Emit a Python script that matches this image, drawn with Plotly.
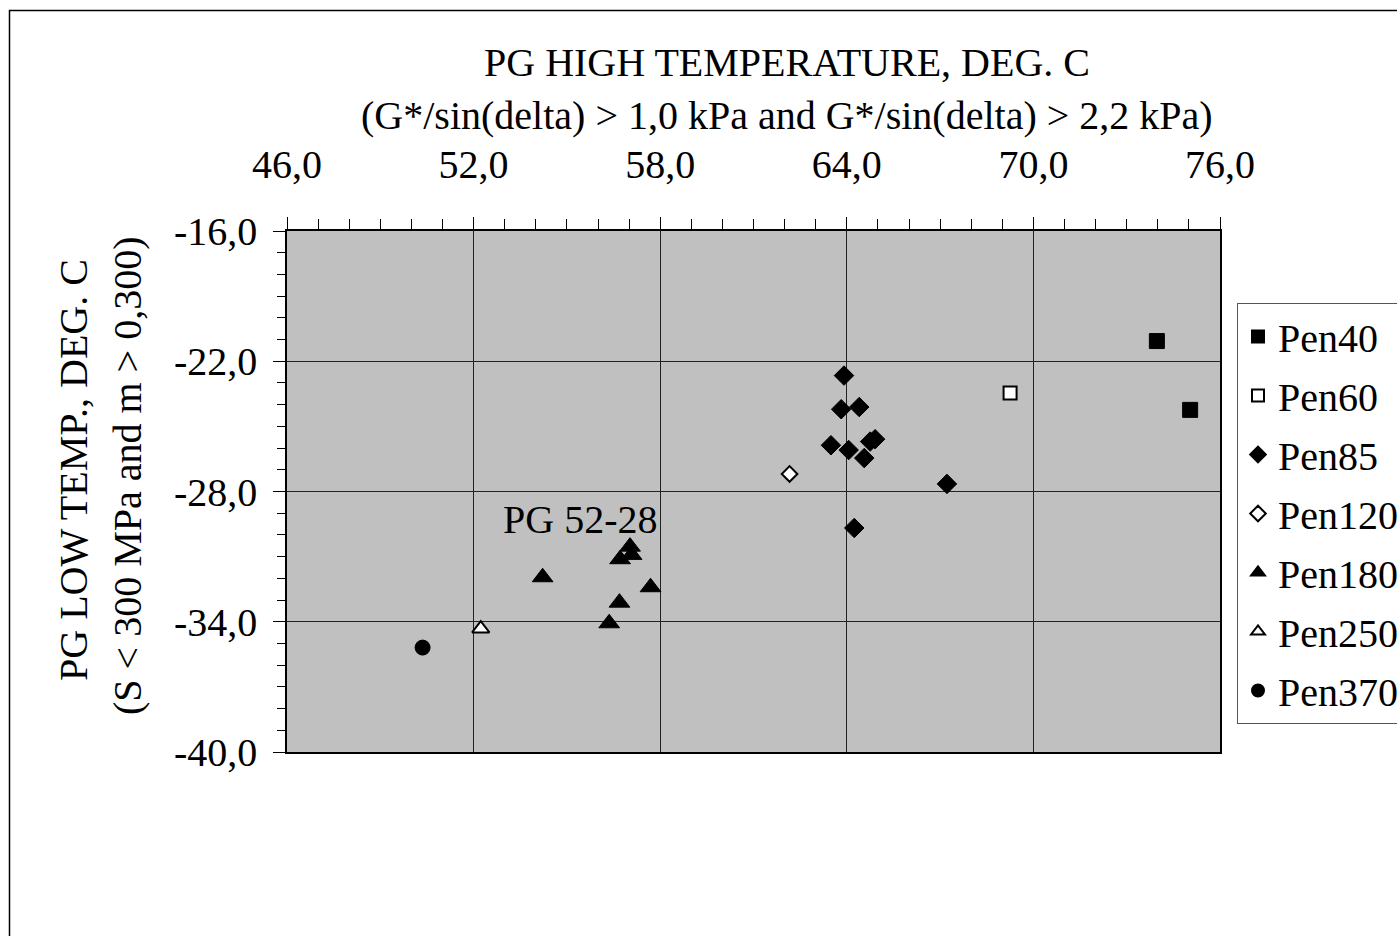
import plotly.graph_objects as go

# ---- data ----
series_names = ["Pen40", "Pen60", "Pen85", "Pen120", "Pen180", "Pen250", "Pen370"]

pen40_x = [73.97, 75.04]
pen40_y = [-21.07, -24.24]

pen60_x = [69.25]
pen60_y = [-23.46]

pen85_x = [63.91, 63.82, 64.40, 63.49, 64.06, 64.56, 64.75, 64.91, 67.22, 64.24]
pen85_y = [-22.66, -24.21, -24.11, -25.87, -26.09, -26.46, -25.70, -25.59, -27.65, -29.68]

pen120_x = [62.16]
pen120_y = [-27.19]

pen180_x = [54.22, 57.03, 57.08, 56.71, 57.69, 56.69, 56.36]
pen180_y = [-31.95, -30.54, -30.92, -31.12, -32.41, -33.12, -34.07]

pen250_x = [52.23]
pen250_y = [-34.32]

pen370_x = [50.36]
pen370_y = [-35.19]

x_ticks = [46, 52, 58, 64, 70, 76]
x_ticktext = ["46,0", "52,0", "58,0", "64,0", "70,0", "76,0"]
y_ticks = [-16, -22, -28, -34, -40]
y_ticktext = ["-16,0", "-22,0", "-28,0", "-34,0", "-40,0"]

label_text = "PG 52-28"
label_x, label_y = 55.42, -29.31

FONT = "Liberation Serif, Times New Roman, serif"
FS = 40

fig = go.Figure()

def add(name, xs, ys, symbol, size, fill, group):
    fig.add_trace(go.Scatter(
        x=xs, y=ys, mode="markers", name=name, legendgroup=group,
        marker=dict(symbol=symbol, size=size, color=fill,
                    line=dict(color="black", width=2 if fill == "white" else 1)),
    ))

add("Pen40", pen40_x, pen40_y, "square", 15, "black", "g1")
add("Pen60", pen60_x, pen60_y, "square", 13, "white", "g2")
add("Pen85", pen85_x, pen85_y, "diamond", 15, "black", "g3")
add("Pen120", pen120_x, pen120_y, "diamond", 12, "white", "g4")
add("Pen180", pen180_x, pen180_y, "triangle-up", 18, "black", "g5")
add("Pen250", pen250_x, pen250_y, "triangle-up", 15, "white", "g6")
add("Pen370", pen370_x, pen370_y, "circle", 15, "black", "g7")

W, H = 1397, 936
L, R, T, B = 287, 1220, 231, 752

def px(xp):
    return (xp - L) / (R - L)

def py(yp):
    return 1 - (yp - T) / (B - T)

fig.update_layout(
    width=W, height=H,
    margin=dict(l=L, r=W - R, t=T, b=H - B, pad=0, autoexpand=False),
    paper_bgcolor="white",
    plot_bgcolor="#C0C0C0",
    separators=", ",
    font=dict(family=FONT, size=FS, color="black"),
    showlegend=True,
    legend=dict(
        x=px(1237), y=py(303), xanchor="left", yanchor="top",
        bgcolor="white", bordercolor="#555555", borderwidth=1,
        font=dict(family=FONT, size=FS, color="black"),
        itemsizing="constant", tracegroupgap=4,
        traceorder="grouped",
    ),
    xaxis=dict(
        side="top", range=[46, 76], tickvals=x_ticks, ticktext=x_ticktext,
        showgrid=True, gridcolor="#222222", gridwidth=1,
        showline=True, linecolor="black", linewidth=1.5, mirror=True,
        ticks="outside", ticklen=12, tickcolor="black", tickwidth=1,
        ticklabelstandoff=23,
        minor=dict(dtick=1, ticks="outside", ticklen=10, tickcolor="black", showgrid=False),
        zeroline=False, fixedrange=True, automargin=False,
        tickfont=dict(family=FONT, size=FS),
    ),
    yaxis=dict(
        range=[-40, -16], tickvals=y_ticks, ticktext=y_ticktext,
        showgrid=True, gridcolor="#222222", gridwidth=1,
        showline=True, linecolor="black", linewidth=1.5, mirror=True,
        ticks="outside", ticklen=12, tickcolor="black", tickwidth=1,
        ticklabelstandoff=8,
        minor=dict(dtick=1, ticks="outside", ticklen=8, tickcolor="black", showgrid=False),
        zeroline=False, fixedrange=True, automargin=False,
        tickfont=dict(family=FONT, size=FS),
    ),
)

# axis titles (line spacing of the original is wider than Plotly's <br>)
annos = [
    dict(text="PG HIGH TEMPERATURE, DEG. C", x=px(787), y=py(62)),
    dict(text="(G*/sin(delta) > 1,0 kPa and G*/sin(delta) > 2,2 kPa)", x=px(787), y=py(115)),
    dict(text="PG LOW TEMP., DEG. C", x=px(73), y=py(470), textangle=-90),
    dict(text="(S < 300 MPa and m > 0,300)", x=px(127), y=py(476), textangle=-90),
]
for a in annos:
    fig.add_annotation(xref="paper", yref="paper", showarrow=False,
                       xanchor="center", yanchor="middle",
                       font=dict(family=FONT, size=FS, color="black"), **a)

fig.add_annotation(x=label_x, y=label_y, xref="x", yref="y", text=label_text,
                   showarrow=False, xanchor="center", yanchor="middle",
                   font=dict(family=FONT, size=FS, color="black"))

# outer chart frame (extends past the right and bottom window edges)
fig.add_shape(type="rect", xref="paper", yref="paper",
              x0=px(9.5), x1=px(1420), y0=py(10.5), y1=py(960),
              line=dict(color="black", width=1.5), fillcolor="rgba(0,0,0,0)",
              layer="below")

fig.write_html("out.html")
